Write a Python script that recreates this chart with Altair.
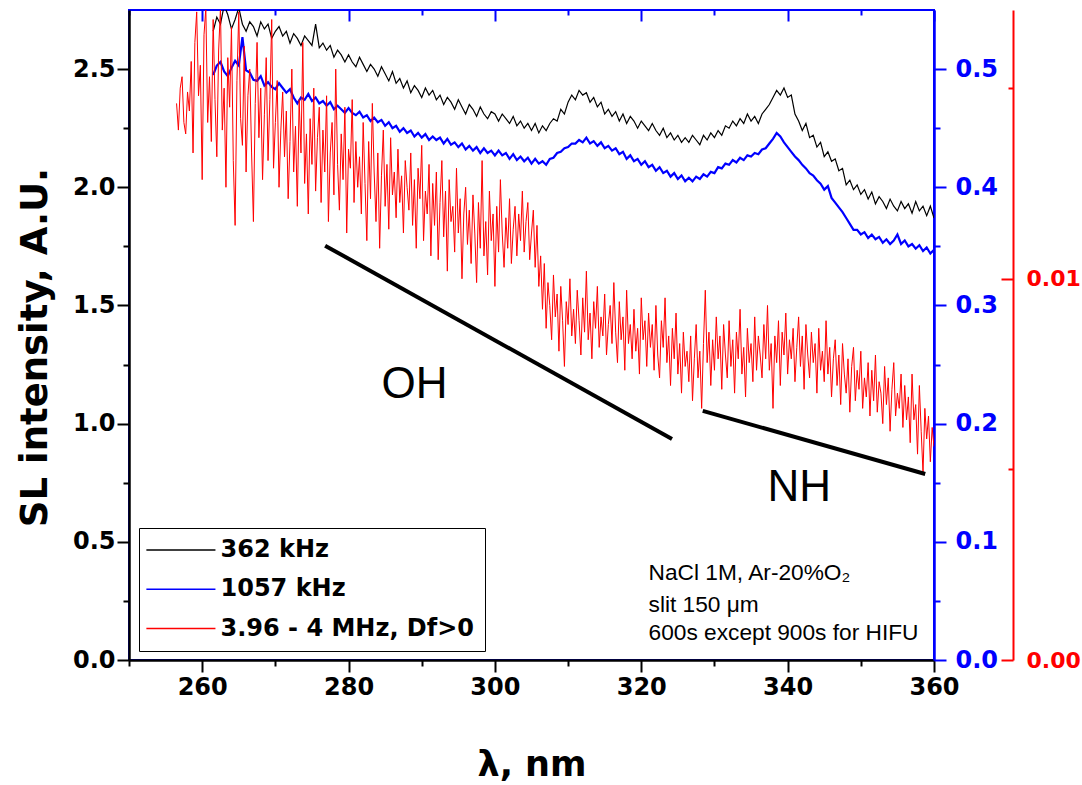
import altair as alt
import pandas as pd

# ---- series ----
black_start = 261.5
black_step = 0.5
black_vals = [
    2.66, 2.72, 2.69, 2.77, 2.73, 2.67, 2.71, 2.76, 2.69, 2.66,
    2.70, 2.68, 2.64, 2.70, 2.67, 2.69, 2.63, 2.66, 2.68, 2.64,
    2.66, 2.61, 2.65, 2.63, 2.60, 2.64, 2.62, 2.60, 2.69, 2.59,
    2.61, 2.58, 2.60, 2.55, 2.58, 2.56, 2.53, 2.56, 2.53, 2.51,
    2.55, 2.52, 2.49, 2.52, 2.50, 2.47, 2.51, 2.48, 2.45, 2.49,
    2.44, 2.46, 2.42, 2.45, 2.40, 2.43, 2.41, 2.38, 2.42, 2.39,
    2.41, 2.37, 2.39, 2.35, 2.38, 2.36, 2.33, 2.37, 2.34, 2.31,
    2.35, 2.33, 2.30, 2.34, 2.31, 2.29, 2.32, 2.31, 2.28, 2.31,
    2.29, 2.27, 2.30, 2.26, 2.28, 2.25, 2.27, 2.24, 2.27, 2.23,
    2.26, 2.24, 2.27, 2.29, 2.28, 2.33, 2.31, 2.36, 2.39, 2.37,
    2.41, 2.39, 2.40, 2.36, 2.38, 2.34, 2.36, 2.31, 2.33, 2.30,
    2.32, 2.28, 2.31, 2.27, 2.30, 2.28, 2.25, 2.28, 2.26, 2.24,
    2.27, 2.24, 2.22, 2.25, 2.21, 2.23, 2.20, 2.22, 2.19, 2.21,
    2.19, 2.22, 2.20, 2.18, 2.22, 2.20, 2.23, 2.21, 2.24, 2.22,
    2.26, 2.25, 2.28, 2.26, 2.29, 2.27, 2.31, 2.28, 2.30, 2.27,
    2.31, 2.33, 2.35, 2.38, 2.41, 2.39, 2.42, 2.38, 2.39, 2.31,
    2.28, 2.24, 2.27, 2.21, 2.22, 2.17, 2.19, 2.13, 2.15, 2.11,
    2.12, 2.07, 2.08, 2.01, 2.03, 1.99, 2.01, 1.97, 1.99, 1.95,
    1.98, 1.93, 1.96, 1.94, 1.91, 1.95, 1.92, 1.90, 1.94, 1.91,
    1.93, 1.89, 1.94, 1.90, 1.92, 1.88, 1.92, 1.87,
]

blue_start = 261.5
blue_step = 0.5
blue_vals = [
    0.495, 0.503, 0.506, 0.498, 0.494, 0.501, 0.507, 0.503, 0.527, 0.499,
    0.497, 0.491, 0.490, 0.494, 0.486, 0.489, 0.485, 0.483, 0.488, 0.484,
    0.480, 0.483, 0.476, 0.471, 0.476, 0.474, 0.479, 0.473, 0.476, 0.471,
    0.473, 0.469, 0.472, 0.466, 0.469, 0.466, 0.463, 0.467, 0.463, 0.461,
    0.464, 0.459, 0.461, 0.456, 0.459, 0.455, 0.457, 0.452, 0.455, 0.450,
    0.452, 0.447, 0.450, 0.446, 0.448, 0.443, 0.446, 0.442, 0.445, 0.440,
    0.443, 0.440, 0.442, 0.437, 0.441, 0.436, 0.438, 0.434, 0.437, 0.432,
    0.435, 0.431, 0.434, 0.429, 0.433, 0.429, 0.431, 0.427, 0.431, 0.427,
    0.429, 0.424, 0.428, 0.423, 0.426, 0.422, 0.425, 0.420, 0.424, 0.420,
    0.422, 0.419, 0.424, 0.425, 0.429, 0.430, 0.433, 0.434, 0.437, 0.437,
    0.440, 0.438, 0.442, 0.437, 0.439, 0.435, 0.438, 0.433, 0.435, 0.431,
    0.433, 0.428, 0.430, 0.424, 0.427, 0.422, 0.424, 0.419, 0.422, 0.417,
    0.419, 0.414, 0.417, 0.412, 0.414, 0.409, 0.412, 0.407, 0.410, 0.405,
    0.408, 0.405, 0.409, 0.407, 0.411, 0.409, 0.413, 0.412, 0.417, 0.416,
    0.420, 0.419, 0.423, 0.421, 0.425, 0.423, 0.427, 0.426, 0.429, 0.428,
    0.432, 0.433, 0.437, 0.441, 0.446, 0.443, 0.438, 0.434, 0.430, 0.426,
    0.423, 0.419, 0.416, 0.412, 0.410, 0.406, 0.403, 0.398, 0.401, 0.391,
    0.387, 0.383, 0.379, 0.374, 0.369, 0.364, 0.364, 0.360, 0.362, 0.357,
    0.360, 0.356, 0.358, 0.353, 0.356, 0.352, 0.355, 0.360, 0.352, 0.355,
    0.350, 0.352, 0.348, 0.351, 0.346, 0.349, 0.344, 0.347,
]

red_start = 256.5
red_step = 0.25
red_vals = [
    0.0146, 0.0139, 0.0150, 0.0153, 0.0141, 0.0138, 0.0149, 0.0144, 0.0157, 0.0133,
    0.0162, 0.0170, 0.0148, 0.0156, 0.0126, 0.0164, 0.0171, 0.0141, 0.0153, 0.0136,
    0.0168, 0.0147, 0.0132, 0.0160, 0.0171, 0.0139, 0.0150, 0.0124, 0.0158, 0.0145,
    0.0166, 0.0131, 0.0114, 0.0152, 0.0170, 0.0142, 0.0135, 0.0161, 0.0128, 0.0148,
    0.0155, 0.0133, 0.0115, 0.0146, 0.0162, 0.0137, 0.0150, 0.0126, 0.0143, 0.0158,
    0.0131, 0.0147, 0.0168, 0.0129, 0.0141, 0.0152, 0.0124, 0.0139, 0.0149, 0.0132,
    0.0144, 0.0121, 0.0136, 0.0155, 0.0128, 0.0140, 0.0119, 0.0147, 0.0133, 0.0162,
    0.0125, 0.0138, 0.0117, 0.0142, 0.0130, 0.0150, 0.0123, 0.0137, 0.0145, 0.0120,
    0.0139, 0.0128, 0.0148, 0.0115, 0.0133, 0.0141, 0.0122, 0.0155, 0.0130, 0.0118,
    0.0138, 0.0126, 0.0145, 0.0112, 0.0134, 0.0129, 0.0147, 0.0120, 0.0136, 0.0124,
    0.0132, 0.0117, 0.0141, 0.0125, 0.0110, 0.0136, 0.0121, 0.0146, 0.0128, 0.0115,
    0.0133, 0.0108, 0.0127, 0.0139, 0.0119, 0.0130, 0.0113, 0.0137, 0.0122, 0.0128,
    0.0116, 0.0134, 0.0120, 0.0127, 0.0112, 0.0131, 0.0124, 0.0118, 0.0133, 0.0114,
    0.0126, 0.0108, 0.0129, 0.0121, 0.0135, 0.0110, 0.0123, 0.0117, 0.0130, 0.0106,
    0.0125, 0.0114, 0.0128, 0.0105, 0.0120, 0.0131, 0.0111, 0.0123, 0.0102, 0.0126,
    0.0115, 0.0119, 0.0107, 0.0129, 0.0112, 0.0121, 0.0100, 0.0117, 0.0124, 0.0109,
    0.0118, 0.0104, 0.0122, 0.0112, 0.0099, 0.0120, 0.0108, 0.0131, 0.0106, 0.0115,
    0.0101, 0.0123, 0.0110, 0.0117, 0.0098, 0.0119, 0.0107, 0.0126, 0.0112, 0.0103,
    0.0116, 0.0108, 0.0121, 0.0104, 0.0113, 0.0119, 0.0106, 0.0117, 0.0110, 0.0123,
    0.0107, 0.0115, 0.0120, 0.0105, 0.0112, 0.0118, 0.0103, 0.0114, 0.0098, 0.0106,
    0.0092, 0.0104, 0.0087, 0.0099, 0.0093, 0.0084, 0.0101, 0.0090, 0.0096, 0.0081,
    0.0098, 0.0089, 0.0077, 0.0094, 0.0088, 0.0100, 0.0085, 0.0092, 0.0083, 0.0097,
    0.0089, 0.0080, 0.0095, 0.0086, 0.0102, 0.0084, 0.0091, 0.0079, 0.0094, 0.0087,
    0.0098, 0.0082, 0.0090, 0.0085, 0.0096, 0.0080, 0.0088, 0.0093, 0.0083, 0.0099,
    0.0086, 0.0078, 0.0094, 0.0084, 0.0090, 0.0076, 0.0097, 0.0083, 0.0088, 0.0079,
    0.0092, 0.0081, 0.0087, 0.0075, 0.0095, 0.0084, 0.0089, 0.0077, 0.0091, 0.0082,
    0.0088, 0.0076, 0.0093, 0.0080, 0.0074, 0.0089, 0.0082, 0.0095, 0.0078, 0.0085,
    0.0072, 0.0087, 0.0079, 0.0091, 0.0075, 0.0083, 0.0070, 0.0086, 0.0077, 0.0081,
    0.0073, 0.0085, 0.0068, 0.0079, 0.0088, 0.0074, 0.0081, 0.0066, 0.0083, 0.0097,
    0.0078, 0.0086, 0.0072, 0.0084, 0.0076, 0.0090, 0.0079, 0.0085, 0.0071, 0.0088,
    0.0080, 0.0074, 0.0089, 0.0077, 0.0084, 0.0070, 0.0086, 0.0079, 0.0092, 0.0075,
    0.0082, 0.0069, 0.0087, 0.0078, 0.0083, 0.0073, 0.0090, 0.0076, 0.0085, 0.0080,
    0.0074, 0.0088, 0.0079, 0.0093, 0.0076, 0.0083, 0.0066, 0.0085, 0.0078, 0.0089,
    0.0072, 0.0086, 0.0080, 0.0091, 0.0075, 0.0084, 0.0079, 0.0087, 0.0073, 0.0082,
    0.0090, 0.0077, 0.0085, 0.0071, 0.0088, 0.0080, 0.0074, 0.0086, 0.0078, 0.0083,
    0.0070, 0.0087, 0.0076, 0.0081, 0.0073, 0.0089, 0.0075, 0.0082, 0.0069, 0.0079,
    0.0084, 0.0072, 0.0080, 0.0067, 0.0083, 0.0075, 0.0070, 0.0079, 0.0065, 0.0077,
    0.0082, 0.0068, 0.0076, 0.0071, 0.0081, 0.0066, 0.0074, 0.0069, 0.0078, 0.0064,
    0.0076, 0.0068, 0.0080, 0.0065, 0.0073, 0.0070, 0.0062, 0.0077, 0.0067, 0.0074,
    0.0060, 0.0071, 0.0078, 0.0064, 0.0070, 0.0066, 0.0075, 0.0061, 0.0072, 0.0063,
    0.0069, 0.0057, 0.0075, 0.0063, 0.0067, 0.0054, 0.0072, 0.0060, 0.0049, 0.0066,
    0.0058, 0.0064, 0.0052, 0.0061, 0.0056,
]

series_names = ["362 kHz", "1057 kHz", "3.96 - 4 MHz, Df>0"]
series_colors = ["#000000", "#0000ff", "#ff0000"]

# ---- annotations ----
seg_x = [276.8, 328.4]
seg_x2 = [324.2, 358.8]
seg_y = [1.753, 1.054]
seg_y2 = [0.935, 0.787]

band_labels = ["OH", "NH"]
band_x = [289.0, 341.6]
band_y = [1.164, 0.727]

note_lines = ["NaCl 1M, Ar-20%O\u2082", "slit 150 \u03bcm", "600s except 900s for HIFU"]
note_x = [321.0, 321.0, 321.0]
note_y = [0.369, 0.234, 0.113]

# ---- ticks ----
x_ticks = [250, 260, 270, 280, 290, 300, 310, 320, 330, 340, 350, 360]
top_major = [260, 280, 300, 320, 340, 360]
top_minor = [250, 270, 290, 310, 330, 350]
left_ticks = [0.0, 0.25, 0.5, 0.75, 1.0, 1.25, 1.5, 1.75, 2.0, 2.25, 2.5]
blue_ticks = [0.0, 0.05, 0.1, 0.15, 0.2, 0.25, 0.3, 0.35, 0.4, 0.45, 0.5]
red_major = [0.0, 0.01]
red_minor = [0.005, 0.015]

X_DOMAIN = [250, 360]
BLACK_DOMAIN = [0, 2.75]
BLUE_DOMAIN = [0, 0.55]
RED_DOMAIN = [0, 0.01705]


def frame(start, step, vals, name):
    return pd.DataFrame({
        "wl": [start + step * i for i in range(len(vals))],
        "v": vals,
        "series": name,
    })


df_black = frame(black_start, black_step, black_vals, series_names[0])
df_blue = frame(blue_start, blue_step, blue_vals, series_names[1])
df_red = frame(red_start, red_step, red_vals, series_names[2])

df_seg = pd.DataFrame({"x": seg_x, "x2": seg_x2, "y": seg_y, "y2": seg_y2})
df_band = pd.DataFrame({"label": band_labels, "x": band_x, "y": band_y})
df_note = pd.DataFrame({"label": note_lines, "x": note_x, "y": note_y})

BOLD = "DejaVu Sans"
BLUE = "#0000ff"
RED = "#ff0000"


def xscale():
    return alt.Scale(domain=X_DOMAIN, nice=False, zero=False)


color_scale = alt.Scale(domain=series_names, range=series_colors)
legend = alt.Legend(
    title=None, orient="none", legendX=10, legendY=518,
    strokeColor="black", fillColor="white", padding=10,
    symbolType="M-1.7,0H6.33", symbolSize=296, symbolStrokeWidth=1.5,
    labelFont=BOLD, labelFontWeight="bold", labelFontSize=24,
    labelColor="black", labelOffset=47.5, rowPadding=15.3, labelLimit=500,
)

bottom_axis = alt.Axis(
    orient="bottom", values=x_ticks,
    labelExpr="datum.value >= 260 && (datum.value - 260) % 20 === 0 ? datum.label : ''",
    tickSize={"condition": {"test": "datum.value >= 260 && (datum.value - 260) % 20 === 0", "value": 12}, "value": 6},
    tickWidth=2, tickColor="black", domainColor="black", domainWidth=2.5,
    labelFont=BOLD, labelFontWeight="bold", labelFontSize=24, labelColor="black",
    labelPadding=3, labelFlush=False, labelOverlap=False, grid=False,
    title="\u03bb, nm", titleFont=BOLD, titleFontWeight="bold", titleFontSize=35,
    titleColor="black", titlePadding=48,
)

left_axis = alt.Axis(
    orient="left", values=left_ticks,
    labelExpr="datum.value % 0.5 === 0 ? format(datum.value, '.1f') : ''",
    tickSize={"condition": {"test": "datum.value % 0.5 === 0", "value": 12}, "value": 6},
    tickWidth=2, tickColor="black", domainColor="black", domainWidth=2.5,
    labelFont=BOLD, labelFontWeight="bold", labelFontSize=24, labelColor="black",
    labelPadding=2, labelOverlap=False, labelFlush=False, grid=False,
    title="SL intensity, A.U.", titleFont=BOLD, titleFontWeight="bold",
    titleFontSize=37, titleColor="black", titlePadding=18, titleY=337,
)

blue_axis = alt.Axis(
    orient="right", values=blue_ticks,
    labelExpr="round(datum.value * 20) % 2 === 0 ? format(datum.value, '.1f') : ''",
    tickSize={"condition": {"test": "round(datum.value * 20) % 2 === 0", "value": 12}, "value": 6},
    tickWidth=2, tickColor=BLUE, domainColor=BLUE, domainWidth=2.5,
    labelFont=BOLD, labelFontWeight="bold", labelFontSize=24, labelColor=BLUE,
    labelPadding=9, labelOverlap=False, labelFlush=False, grid=False, title=None,
)

top_major_axis = alt.Axis(
    orient="top", offset=-11, values=top_major, tickSize=11, tickWidth=2,
    tickColor=BLUE, domain=False, labels=False, grid=False, title=None,
)
top_minor_axis = alt.Axis(
    orient="top", offset=-5, values=top_minor, tickSize=5, tickWidth=2,
    tickColor=BLUE, domain=False, labels=False, grid=False, title=None,
)

red_major_axis = alt.Axis(
    orient="right", offset=67, values=red_major, tickSize=12, tickWidth=2,
    tickColor=RED, domain=False, labels=False, grid=False, title=None,
)
red_minor_axis = alt.Axis(
    orient="right", offset=74, values=red_minor, tickSize=5, tickWidth=2,
    tickColor=RED, domain=False, labels=False, grid=False, title=None,
)
red_label_axis = alt.Axis(
    orient="right", offset=79, values=red_major, ticks=False, format=".2f",
    domainColor=RED, domainWidth=2, labelFont=BOLD, labelFontWeight="bold",
    labelFontSize=22, labelColor=RED, labelPadding=13, labelOverlap=False,
    labelFlush=False, grid=False, title=None,
)

black = alt.Chart(df_black).mark_line(strokeWidth=1.2, clip=True).encode(
    x=alt.X("wl:Q", scale=xscale(), axis=bottom_axis),
    y=alt.Y("v:Q", scale=alt.Scale(domain=BLACK_DOMAIN, nice=False, zero=False), axis=left_axis),
    color=alt.Color("series:N", scale=color_scale, legend=legend),
)

blue = alt.Chart(df_blue).mark_line(strokeWidth=2.2, clip=True).encode(
    x=alt.X("wl:Q", scale=xscale(), axis=top_major_axis),
    y=alt.Y("v:Q", scale=alt.Scale(domain=BLUE_DOMAIN, nice=False, zero=False), axis=blue_axis),
    color=alt.Color("series:N", scale=color_scale, legend=legend),
)

red = alt.Chart(df_red).mark_line(strokeWidth=1.0, clip=True).encode(
    x=alt.X("wl:Q", scale=xscale(), axis=top_minor_axis),
    y=alt.Y("v:Q", scale=alt.Scale(domain=RED_DOMAIN, nice=False, zero=False), axis=red_major_axis),
    color=alt.Color("series:N", scale=color_scale, legend=legend),
)

red_b = alt.Chart(df_red).mark_line(strokeOpacity=0, clip=True).encode(
    x=alt.X("wl:Q", scale=xscale(), axis=None),
    y=alt.Y("v:Q", scale=alt.Scale(domain=RED_DOMAIN, nice=False, zero=False), axis=red_minor_axis),
)

red_c = alt.Chart(df_red).mark_line(strokeOpacity=0, clip=True).encode(
    x=alt.X("wl:Q", scale=xscale(), axis=None),
    y=alt.Y("v:Q", scale=alt.Scale(domain=RED_DOMAIN, nice=False, zero=False), axis=red_label_axis),
)

ann_y = alt.Scale(domain=BLACK_DOMAIN, nice=False, zero=False)
segs = alt.Chart(df_seg).mark_rule(strokeWidth=4, color="black").encode(
    x=alt.X("x:Q", scale=xscale(), axis=None), x2="x2:Q",
    y=alt.Y("y:Q", scale=ann_y, axis=None), y2="y2:Q",
)
bands = alt.Chart(df_band).mark_text(
    font="Liberation Sans", fontSize=44, color="black", align="center", baseline="middle"
).encode(
    x=alt.X("x:Q", scale=xscale(), axis=None),
    y=alt.Y("y:Q", scale=ann_y, axis=None),
    text="label:N",
)
notes = alt.Chart(df_note).mark_text(
    font="Liberation Sans", fontSize=22.7, color="black", align="left", baseline="middle"
).encode(
    x=alt.X("x:Q", scale=xscale(), axis=None),
    y=alt.Y("y:Q", scale=ann_y, axis=None),
    text="label:N",
)
ann = alt.layer(segs, bands, notes)

chart = alt.layer(black, blue, red, red_b, red_c, ann).resolve_scale(
    x="independent", y="independent"
).properties(
    width=805, height=650,
    autosize=alt.AutoSizeParams(type="none"),
    padding={"left": 129, "top": 10, "right": 148, "bottom": 125},
).configure_view(stroke=BLUE, strokeWidth=2)

chart.save("out.html", embed_options={"renderer": "svg", "actions": False})
